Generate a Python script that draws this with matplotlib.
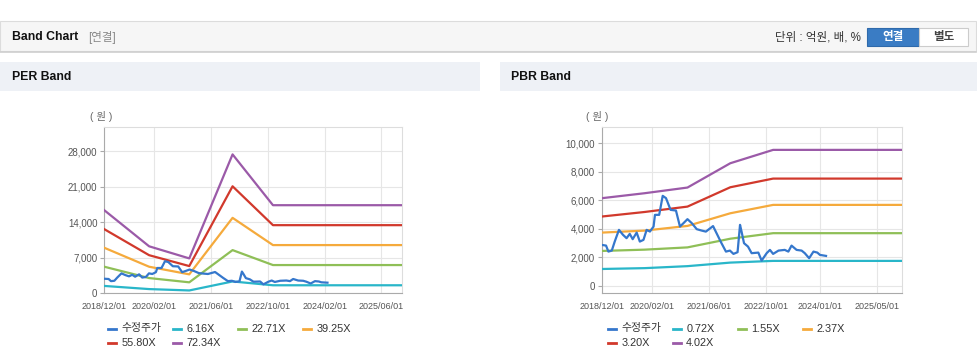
import matplotlib
matplotlib.use("Agg")
import pandas as pd
import matplotlib.pyplot as plt
from matplotlib.patches import Rectangle
from matplotlib.lines import Line2D

plt.rcParams['font.family'] = ['Liberation Sans', 'Noto Sans CJK KR']

# 수정주가 (same series drawn on both charts)
price_dates = ['2018-12-01', '2019-01-07', '2019-01-27', '2019-02-25', '2019-03-22', '2019-04-27',
               '2019-06-01', '2019-07-01', '2019-07-28', '2019-08-22', '2019-09-25', '2019-10-22',
               '2019-11-22', '2019-12-19', '2020-01-16', '2020-02-16', '2020-02-28', '2020-04-04',
               '2020-05-04', '2020-06-01', '2020-07-10', '2020-08-25', '2020-09-28', '2020-10-28',
               '2020-12-01', '2021-01-07', '2021-02-18', '2021-04-01', '2021-05-07', '2021-07-07',
               '2021-09-13', '2021-10-25', '2021-11-28', '2021-12-28', '2022-02-01', '2022-02-22',
               '2022-03-07', '2022-03-28', '2022-05-01', '2022-06-01', '2022-07-28', '2022-08-25',
               '2022-10-07', '2022-11-04', '2022-12-01', '2023-01-16', '2023-03-10', '2023-04-10',
               '2023-05-07', '2023-06-19', '2023-08-01', '2023-08-28', '2023-10-04', '2023-11-10',
               '2023-12-13', '2024-01-04', '2024-02-25']
price_values = [2866, 2817, 2394, 2465, 3099, 3923,
                3570, 3338, 3641, 3268, 3732, 3099,
                3218, 3923, 3803, 4155, 4979, 4979,
                6317, 6155, 5331, 5282, 4155, 4394,
                4676, 4394, 3972, 3873, 3800, 4190,
                3050, 2394, 2465, 2232, 2352, 4275,
                3803, 2986, 2746, 2282, 2324, 1761,
                2282, 2514, 2232, 2465, 2514, 2394,
                2817, 2514, 2465, 2282, 1930, 2394,
                2324, 2162, 2091]

# PER band
per_dates = ['2018-12-01', '2019-12-20', '2020-11-28', '2021-12-04', '2022-11-15', '2025-11-22']
per_labels = ['6.16X', '22.71X', '39.25X', '55.80X', '72.34X']
per_616 = [1450, 830, 560, 2330, 1580, 1580]
per_2271 = [5230, 3000, 2160, 8500, 5560, 5560]
per_3925 = [8960, 5230, 3730, 14850, 9490, 9490]
per_5580 = [12620, 7500, 5360, 21060, 13410, 13410]
per_7234 = [16350, 9250, 6870, 27340, 17340, 17340]
per_ticks = ['2018-12-01', '2020-02-01', '2021-06-01', '2022-10-01', '2024-02-01', '2025-06-01']

# PBR band
pbr_dates = ['2018-12-01', '2019-12-01', '2020-12-01', '2021-12-01', '2022-12-01', '2025-12-01']
pbr_labels = ['0.72X', '1.55X', '2.37X', '3.20X', '4.02X']
pbr_072 = [1170, 1230, 1370, 1620, 1740, 1740]
pbr_155 = [2440, 2530, 2690, 3300, 3690, 3690]
pbr_237 = [3730, 3870, 4200, 5090, 5680, 5680]
pbr_320 = [4860, 5180, 5560, 6920, 7530, 7530]
pbr_402 = [6150, 6500, 6900, 8610, 9550, 9550]
pbr_ticks = ['2018-12-01', '2020-02-01', '2021-06-01', '2022-10-01', '2024-01-01', '2025-05-01']

colors = ['#3577cc', '#29b6c9', '#8fbf57', '#f5aa3c', '#d1392c', '#9b5aa8']

W, H = 978, 361
def fx(x):
    return x / W
def fy(y):
    return 1 - y / H

fig = plt.figure(figsize=(W / 100, H / 100), dpi=100)
fig.patch.set_facecolor('white')

# page header strip
fig.add_artist(Rectangle((fx(0), fy(51)), fx(976), 30 / H, transform=fig.transFigure,
                         facecolor='#f6f6f6', edgecolor='#dcdcdc', lw=0.8))
fig.add_artist(Line2D([fx(0), fx(976)], [fy(52), fy(52)], color='#cfcfcf', lw=1.2))
fig.text(fx(12), fy(37), 'Band Chart', fontsize=8.8, fontweight='bold', color='#111', va='center')
fig.text(fx(88), fy(37), '[연결]', fontsize=8.3, color='#888', va='center')
fig.text(fx(861), fy(37), '단위 : 억원, 배, %', fontsize=8.3, color='#333', va='center', ha='right')
fig.add_artist(Rectangle((fx(867), fy(46)), 52 / W, 18 / H, transform=fig.transFigure,
                         facecolor='#3a7cc4', edgecolor='#2f6aab', lw=0.8))
fig.text(fx(893), fy(37), '연결', fontsize=8.3, fontweight='bold', color='white', va='center', ha='center')
fig.add_artist(Rectangle((fx(919), fy(46)), 49 / W, 18 / H, transform=fig.transFigure,
                         facecolor='white', edgecolor='#cccccc', lw=0.8))
fig.text(fx(943.5), fy(37), '별도', fontsize=8.3, fontweight='bold', color='#444', va='center', ha='center')

# panel headers
fig.add_artist(Rectangle((fx(0), fy(91)), 480 / W, 29 / H, transform=fig.transFigure,
                         facecolor='#eef1f6', edgecolor='none'))
fig.add_artist(Rectangle((fx(500), fy(91)), 478 / W, 29 / H, transform=fig.transFigure,
                         facecolor='#eef1f6', edgecolor='none'))
fig.text(fx(12), fy(77), 'PER Band', fontsize=8.8, fontweight='bold', color='#111', va='center')
fig.text(fx(511), fy(77), 'PBR Band', fontsize=8.8, fontweight='bold', color='#111', va='center')


def band_chart(left, right, ylim, yticks, dates, bands, ticks, xend, unit_x):
    ax = fig.add_axes([fx(left), fy(293.3), (right - left) / W, (293.3 - 126.5) / H])
    d = pd.to_datetime(dates)
    ax.plot(pd.to_datetime(price_dates), price_values, color=colors[0], lw=1.6, zorder=4)
    for vals, c in zip(bands, colors[1:]):
        ax.plot(d, vals, color=c, lw=1.6, zorder=3)
    ax.set_xlim(pd.Timestamp('2018-12-01'), pd.Timestamp(xend))
    ax.set_ylim(*ylim)
    ax.set_yticks(yticks)
    ax.set_yticklabels([f'{v:,}' for v in yticks])
    t = pd.to_datetime(ticks)
    ax.set_xticks(t)
    ax.set_xticklabels([s.replace('-', '/') for s in ticks])
    ax.grid(True, color='#e6e6e6', lw=0.8)
    ax.set_axisbelow(True)
    for s in ['top', 'right']:
        ax.spines[s].set_color('#dddddd')
    for s in ['left', 'bottom']:
        ax.spines[s].set_color('#aaaaaa')
    ax.tick_params(axis='y', length=3, width=0.8, color='#aaaaaa', pad=2, labelsize=7, labelcolor='#555')
    ax.tick_params(axis='x', length=0, pad=6, labelsize=6.5, labelcolor='#555')
    fig.text(fx(unit_x), fy(116), '( 원 )', fontsize=7.5, color='#666', ha='center', va='center')
    return ax


def draw_legend(x0, labels):
    for i, (lab, c) in enumerate(zip(labels, colors)):
        r, k = divmod(i, 4)
        x = x0 + k * 65
        y = 328.5 + r * 14.5
        fig.add_artist(Line2D([fx(x), fx(x + 8)], [fy(y), fy(y)], color=c, lw=2))
        fig.text(fx(x + 13.5), fy(y), lab, fontsize=7.8, color='#333', va='center')


band_chart(104.3, 401.7, (0, 32830), [0, 7000, 14000, 21000, 28000], per_dates,
           [per_616, per_2271, per_3925, per_5580, per_7234], per_ticks, '2025-11-22', 101)
band_chart(601.7, 901.7, (-540, 11195), [0, 2000, 4000, 6000, 8000, 10000], pbr_dates,
           [pbr_072, pbr_155, pbr_237, pbr_320, pbr_402], pbr_ticks, '2025-12-01', 597)

draw_legend(107.7, ['수정주가'] + per_labels)
draw_legend(607.7, ['수정주가'] + pbr_labels)

fig.savefig('out.png', dpi=100)
